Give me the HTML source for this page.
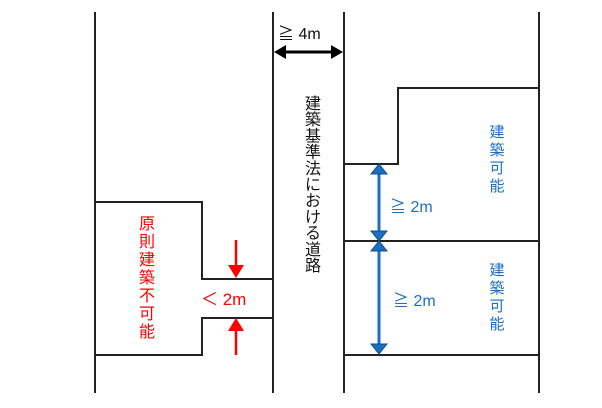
<!DOCTYPE html>
<html><head><meta charset="utf-8"><style>
body{margin:0;background:#fff;width:602px;height:403px;overflow:hidden}
svg text{font-family:"Liberation Sans","Noto Sans CJK JP",sans-serif}
</style></head><body>
<svg width="602" height="403" viewBox="0 0 602 403" xmlns="http://www.w3.org/2000/svg">
<g stroke="#222" stroke-width="2" fill="none">
<line x1="95" y1="12" x2="95" y2="393"/>
<line x1="273" y1="12" x2="273" y2="393"/>
<line x1="344" y1="12" x2="344" y2="393"/>
<line x1="539" y1="12" x2="539" y2="393"/>
<polyline points="95,202 202,202 202,279 273,279"/>
<polyline points="273,318 202,318 202,355 95,355"/>
<polyline points="539,88 398,88 398,164 344,164"/>
<line x1="344" y1="241" x2="539" y2="241"/>
<line x1="344" y1="355" x2="539" y2="355"/>
</g>
<line x1="283" y1="52" x2="334" y2="52" stroke="#000" stroke-width="3"/>
<polygon points="274,52 286,45 286,59" fill="#000"/>
<polygon points="343,52 331,45 331,59" fill="#000"/>
<text x="278" y="39" font-size="16" fill="#111">≧ 4m</text>
<g stroke="#f00" stroke-width="2.5">
<line x1="236" y1="240" x2="236" y2="266"/>
<line x1="236" y1="330" x2="236" y2="355"/>
</g>
<polygon points="228,265 244,265 236,278" fill="#f00"/>
<polygon points="228,331 244,331 236,318" fill="#f00"/>
<text x="201" y="305" font-size="17" fill="#f00">＜ 2m</text>
<g stroke="#1a6fc0" stroke-width="3"><line x1="379" y1="172" x2="379" y2="233"/><line x1="379" y1="249" x2="379" y2="345"/></g>
<g fill="#1a6fc0" stroke="#124e8a" stroke-width="1">
<polygon points="371,174 387,174 379,164"/>
<polygon points="371,231 387,231 379,241"/>
<polygon points="371,251 387,251 379,241"/>
<polygon points="371,344 387,344 379,354"/>
</g>
<text x="390" y="212" font-size="16" fill="#1a6fc0">≧ 2m</text>
<text x="393" y="306" font-size="16" fill="#1a6fc0">≧ 2m</text>
<g font-size="16" fill="#111" text-anchor="middle">
<text x="313" y="109">建</text><text x="313" y="125.2">築</text><text x="313" y="141.4">基</text><text x="313" y="157.6">準</text><text x="313" y="173.8">法</text><text x="313" y="190">に</text><text x="313" y="206.2">お</text><text x="313" y="222.4">け</text><text x="313" y="238.6">る</text><text x="313" y="254.8">道</text><text x="313" y="271">路</text>
</g>
<g font-size="16" fill="#f00" text-anchor="middle">
<text x="147" y="229">原</text><text x="147" y="247">則</text><text x="147" y="265">建</text><text x="147" y="283">築</text><text x="147" y="301">不</text><text x="147" y="319">可</text><text x="147" y="337">能</text>
</g>
<g font-size="15" fill="#1a6fc0" text-anchor="middle">
<text x="497" y="137">建</text><text x="497" y="155">築</text><text x="497" y="173">可</text><text x="497" y="191">能</text>
<text x="497" y="275">建</text><text x="497" y="293">築</text><text x="497" y="311">可</text><text x="497" y="329">能</text>
</g>
</svg>
</body></html>
